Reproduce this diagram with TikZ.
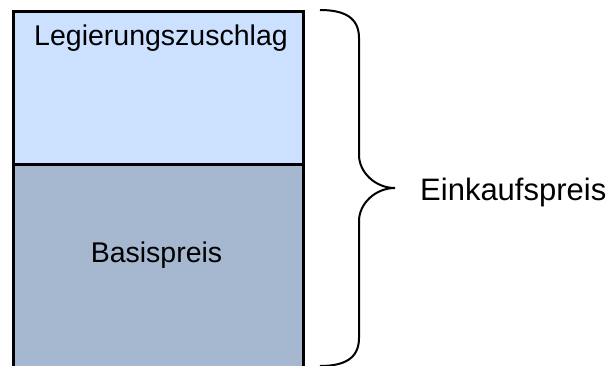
\documentclass[tikz,border=0pt]{standalone}
\usepackage{fontspec}
\setmainfont{Liberation Sans}
\definecolor{topfill}{RGB}{204,224,255}
\definecolor{botfill}{RGB}{166,183,208}
\begin{document}
\begin{tikzpicture}[x=1pt,y=-1pt,
  box/.style={draw=black,line width=3pt,anchor=north west,inner sep=0pt},
  lbl/.style={font=\fontsize{28.5}{32}\selectfont,text=black,inner sep=0pt,anchor=base}]
\useasboundingbox (0,0) rectangle (613,365);
\clip (0,0) rectangle (613,365);
\node[box,fill=topfill,minimum width=290pt,minimum height=152.5pt] (top) at (12,10) {};
\node[box,fill=botfill,minimum width=290pt,minimum height=215pt] (bot) at (12,162.5) {};
\node[lbl] (t1) at (161,45) {Legierungszuschlag};
\node[lbl] (t2) at (156.5,262) {Basispreis};
\coordinate (b0) at (320,10);
\coordinate (tip) at (395,188);
\coordinate (b1) at (320,366);
\draw[line width=2pt] (b0) .. controls (345,10) and (359,18) .. (359,38)
  -- (359,155) .. controls (359,172) and (375,188) .. (tip)
  .. controls (375,188) and (359,204) .. (359,221)
  -- (359,338) .. controls (359,358) and (345,366) .. (b1);
\node[lbl,anchor=base west,font=\fontsize{31}{36}\selectfont] (ek) at (420,200) {Einkaufspreis};
\end{tikzpicture}
\end{document}
